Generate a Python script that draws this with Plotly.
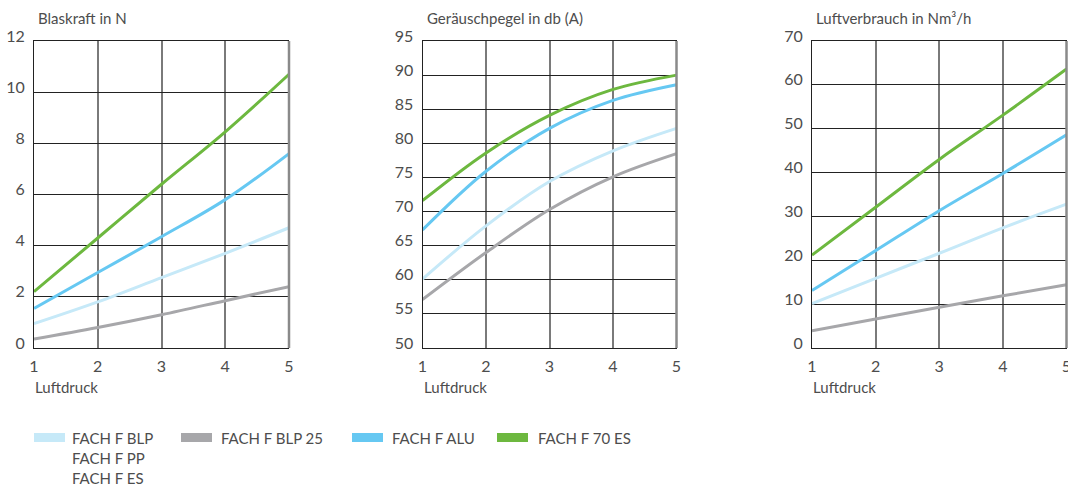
import plotly.graph_objects as go

W, H = 1068, 486

x_druck = [1, 2, 3, 4, 5]

series_names = ["FACH F BLP<br>FACH F PP<br>FACH F ES", "FACH F BLP 25", "FACH F ALU", "FACH F 70 ES"]
series_colors = ["#c6e9f8", "#a7a7aa", "#66c8f2", "#6db83f"]

# Panel 1: Blaskraft in N
blaskraft_blp = [0.95, 1.8, 2.75, 3.7, 4.7]
blaskraft_blp25 = [0.35, 0.8, 1.3, 1.85, 2.4]
blaskraft_alu = [1.55, 2.95, 4.35, 5.8, 7.6]
blaskraft_70es = [2.2, 4.3, 6.4, 8.45, 10.7]

# Panel 2: Geräuschpegel in db (A)
laerm_blp = [60.1, 67.9, 74.4, 78.9, 82.2]
laerm_blp25 = [57.1, 64.0, 70.3, 75.1, 78.5]
laerm_alu = [67.3, 75.9, 82.2, 86.3, 88.6]
laerm_70es = [71.6, 78.6, 84.1, 87.9, 90.0]

# Panel 3: Luftverbrauch in Nm³/h
luft_blp = [10.1, 15.9, 21.6, 27.4, 32.8]
luft_blp25 = [3.9, 6.6, 9.3, 11.9, 14.4]
luft_alu = [13.1, 22.2, 31.3, 39.8, 48.6]
luft_70es = [21.2, 32.1, 43.0, 53.1, 63.6]

panel_titles = ["Blaskraft in N", "Geräuschpegel in db (A)", "Luftverbrauch in Nm³/h"]
x_title = "Luftdruck"
y_ranges = [(0, 12, 2), (50, 95, 5), (0, 70, 10)]

panels = [
    [blaskraft_blp, blaskraft_blp25, blaskraft_alu, blaskraft_70es],
    [laerm_blp, laerm_blp25, laerm_alu, laerm_70es],
    [luft_blp, luft_blp25, luft_alu, luft_70es],
]

# pixel layout
px_left = [34, 422.5, 812]
px_right = [289, 676.5, 1066.5]
px_top, px_bottom = 41, 348

FONT = "Lato, 'Open Sans', sans-serif"
TXT = "#4d4d4d"
WT = 400

fig = go.Figure()
layout = dict(
    width=W, height=H, autosize=False,
    margin=dict(l=0, r=0, t=0, b=0, pad=0, autoexpand=False),
    paper_bgcolor="white", plot_bgcolor="white",
    showlegend=False,
    font=dict(family=FONT, size=14, color=TXT),
)
shapes = []
annotations = []

for i, data in enumerate(panels):
    xa = "x" if i == 0 else f"x{i+1}"
    ya = "y" if i == 0 else f"y{i+1}"
    xkey = "xaxis" if i == 0 else f"xaxis{i+1}"
    ykey = "yaxis" if i == 0 else f"yaxis{i+1}"
    for vals, name, col in zip(data, series_names, series_colors):
        fig.add_trace(go.Scatter(
            x=x_druck, y=vals, mode="lines", name=name,
            line=dict(color=col, width=3, shape="spline", smoothing=1.0),
            xaxis=xa, yaxis=ya, hoverinfo="skip",
        ))
    y0, y1, dy = y_ranges[i]
    layout[xkey] = dict(
        domain=[px_left[i] / W, px_right[i] / W],
        range=[1, 5], tickvals=x_druck, ticktext=[str(v) for v in x_druck],
        showgrid=True, gridcolor="#7a7a7a", gridwidth=2,
        showline=True, linecolor="#222222", linewidth=1, mirror=True,
        zeroline=False, ticks="", fixedrange=True, automargin=False,
        ticklabelstandoff=4, ticklabeloverflow="allow",
        tickfont=dict(family=FONT, size=16, color=TXT, weight=WT),
        anchor=ya,
    )
    layout[ykey] = dict(
        domain=[(H - px_bottom) / H, (H - px_top) / H],
        range=[y0, y1], tickvals=list(range(y0, y1 + 1, dy)),
        showgrid=True, gridcolor="#222222", gridwidth=1,
        showline=True, linecolor="#222222", linewidth=1,
        zeroline=False, ticks="", fixedrange=True, automargin=False,
        ticklabelshift=-5, ticklabelstandoff=5, ticklabeloverflow="allow",
        tickfont=dict(family=FONT, size=16, color=TXT, weight=WT),
        anchor=xa,
    )
    # right edge of frame (gray, like vertical grid)
    shapes.append(dict(type="line", xref=f"{xa} domain", yref=f"{ya} domain",
                       x0=1, x1=1, y0=0, y1=1,
                       line=dict(color="#8a8a8a", width=2.5), layer="above"))
    annotations.append(dict(text=panel_titles[i], xref="paper", yref="paper",
                            x=(px_left[i] + 2) / W, y=(H - 18) / H,
                            xanchor="left", yanchor="middle", showarrow=False,
                            font=dict(family=FONT, size=15, color=TXT, weight=WT)))
    annotations.append(dict(text=x_title, xref="paper", yref="paper",
                            x=(px_left[i] - 1) / W, y=(H - 387) / H,
                            xanchor="left", yanchor="middle", showarrow=False,
                            font=dict(family=FONT, size=15, color=TXT, weight=WT)))

# legend drawn manually
leg_sw_x = [34, 181, 352, 497]
leg_txt_x = [70, 219, 390, 536]
for k in range(4):
    shapes.append(dict(type="rect", xref="paper", yref="paper",
                       x0=leg_sw_x[k] / W, x1=(leg_sw_x[k] + 31) / W,
                       y0=(H - 442) / H, y1=(H - 433) / H,
                       fillcolor=series_colors[k], line=dict(width=0)))
    lines = series_names[k].split("<br>")
    for j, ln in enumerate(lines):
        annotations.append(dict(text=ln, xref="paper", yref="paper",
                                x=leg_txt_x[k] / W, y=(H - (438 + 20 * j)) / H,
                                xanchor="left", yanchor="middle", showarrow=False,
                                font=dict(family=FONT, size=15, color=TXT, weight=WT)))

layout["shapes"] = shapes
layout["annotations"] = annotations
fig.update_layout(**layout)
fig.write_html(
    "out.html",
    config={"responsive": False, "displayModeBar": False, "staticPlot": True},
    post_script="document.body.style.margin='0';document.body.style.padding='0';document.body.style.overflow='hidden';",
)
